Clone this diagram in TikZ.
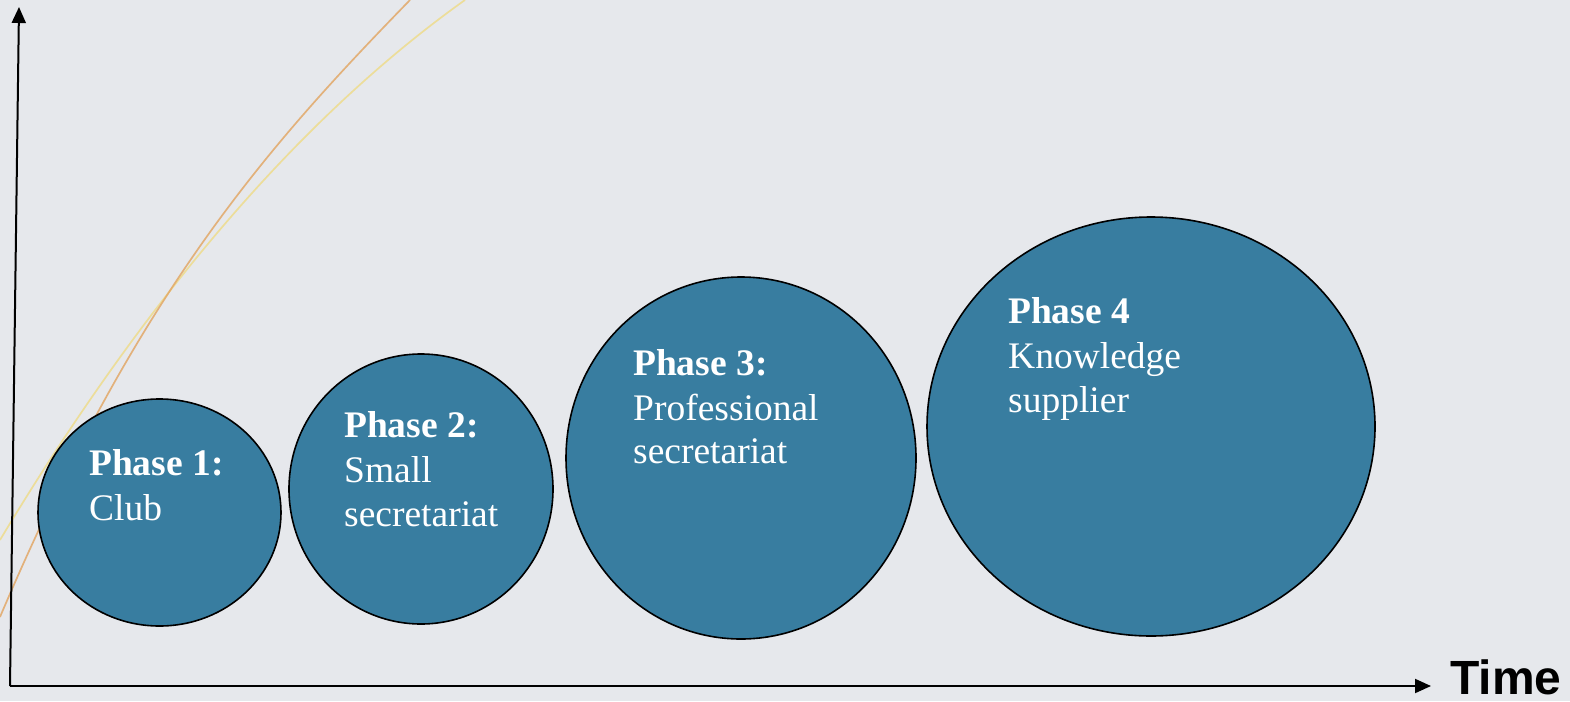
\documentclass[tikz,border=0pt]{standalone}
\usepackage{fontspec}
\setmainfont{Liberation Serif}
\newfontfamily\axisfont{Liberation Sans}
\usetikzlibrary{shapes.geometric,arrows.meta}

\definecolor{bgcol}{RGB}{230,232,236}
\definecolor{phasefill}{RGB}{56,125,160}
\definecolor{curveorange}{RGB}{226,168,104}
\definecolor{curveyellow}{RGB}{238,220,140}

\tikzset{
  phase/.style={ellipse, draw=black, line width=1.6pt, fill=phasefill, inner sep=0pt},
  phasehead/.style={anchor=base west, inner sep=0pt, text=white, font=\fontsize{37.5}{44}\selectfont\bfseries},
  phasetext/.style={anchor=base west, inner sep=0pt, text=white, font=\fontsize{37.5}{44}\selectfont},
  axis/.style={line width=2pt, -{Triangle[length=16pt,width=14pt]}},
  growth/.style={line width=1.7pt, opacity=0.85}
}

\begin{document}
\begin{tikzpicture}[x=1pt,y=-1pt]
  % canvas
  \fill[bgcol] (0,0) rectangle (1570,701);
  \useasboundingbox (0,0) rectangle (1570,701);

  % growth curves, running off the top edge
  \begin{scope}
    \clip (0,0) rectangle (1570,701);
    \draw[growth, curveyellow] (0,540) .. controls (132,320) and (288,126) .. (465,0);
    \draw[growth, curveorange] (0,617) .. controls (140,288) and (270,144) .. (410,0);
  \end{scope}

  % axes
  \coordinate (origin) at (10,686);
  \coordinate (ytip) at (19,7);
  \coordinate (xtip) at (1431,686);
  \draw[axis] (origin) -- (ytip);
  \draw[axis] (origin) -- (xtip);
  \node[anchor=base west, inner sep=0pt, text depth=0pt, font=\axisfont\bfseries\fontsize{48}{50}\selectfont] (time) at (1450,694) {Time};

  % phases
  \node[phase, minimum width=243pt, minimum height=227pt] (p1) at (159.5,512.5) {};
  \node[phase, minimum width=264pt, minimum height=270pt] (p2) at (421,489) {};
  \node[phase, minimum width=350pt, minimum height=362pt] (p3) at (741,458) {};
  \node[phase, minimum width=448pt, minimum height=419pt] (p4) at (1151,426.5) {};

  \node[phasehead] (p1a) at (89,475) {Phase 1:};
  \node[phasetext] (p1b) at (89,520) {Club};

  \node[phasehead] (p2a) at (344,437) {Phase 2:};
  \node[phasetext] (p2b) at (344,482) {Small};
  \node[phasetext] (p2c) at (344,526) {secretariat};

  \node[phasehead] (p3a) at (633,375) {Phase 3:};
  \node[phasetext] (p3b) at (633,420) {Professional};
  \node[phasetext] (p3c) at (633,463) {secretariat};

  \node[phasehead] (p4a) at (1008,323) {Phase 4};
  \node[phasetext] (p4b) at (1008,368) {Knowledge};
  \node[phasetext] (p4c) at (1008,412) {supplier};
\end{tikzpicture}
\end{document}
